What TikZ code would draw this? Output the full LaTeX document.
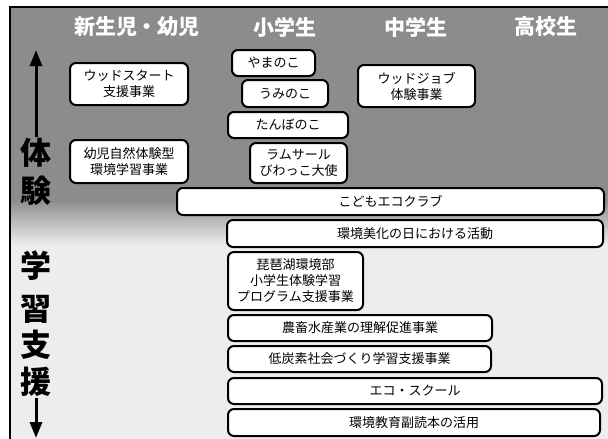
\documentclass[tikz,border=0pt]{standalone}
\usepackage{fontspec}
\setmainfont{Noto Sans CJK JP}
\usetikzlibrary{arrows.meta}

\begin{document}
\begin{tikzpicture}[x=1pt,y=-1pt,
  box/.style={draw, line width=2pt, rounded corners=6pt, fill=white, align=center,
    inner sep=0pt, font=\fontsize{13}{16}\selectfont},
  head/.style={text=white, font=\fontsize{21}{21}\selectfont\bfseries},
  side/.style={font=\fontsize{31}{31}\selectfont\bfseries, inner sep=1pt},
  axis/.style={line width=3pt, -{Triangle[length=16pt,width=12pt]}}]
\useasboundingbox (0,0) rectangle (608,439);
% background
\fill[black!45] (10,7) rectangle (608,200);
\shade[top color=black!45, bottom color=black!7] (10,200) rectangle (608,245);
\fill[black!7] (10,245) rectangle (608,439);
\draw[line width=1.5pt] (10,439) -- (10,7) -- (608,7);

\node[head] (newborn) at (137,27) {新生児・幼児};
\node[head] (elem) at (285,27) {小学生};
\node[head] (junior) at (416,27) {中学生};
\node[head] (senior) at (546,27) {高校生};

% left axis
\node[side] (tai) at (36,153) {体};
\node[side] (ken) at (36,191) {験};
\node[side] (gaku) at (36,266) {学};
\node[side] (shu) at (36,309) {習};
\node[side] (shi) at (36,345) {支};
\node[side] (en) at (36,382) {援};
\coordinate (up) at (36,50);
\coordinate (down) at (36,438);
\draw[axis] (tai.north) -- (up);
\draw[axis] (en.south) -- (down);

\node[box, minimum width=118, minimum height=42] (woodstart) at (129,84) {ウッドスタート\\支援事業};
\node[box, minimum width=83, minimum height=26] (yama) at (273.5,63) {やまのこ};
\node[box, minimum width=86, minimum height=27] (umi) at (285,93.5) {うみのこ};
\node[box, minimum width=120, minimum height=26] (tanbo) at (288,125) {たんぼのこ};
\node[box, minimum width=117, minimum height=42] (woodjob) at (416.5,86) {ウッドジョブ\\体験事業};
\node[box, minimum width=118, minimum height=43] (youji) at (129,161.5) {幼児自然体験型\\環境学習事業};
\node[box, minimum width=97, minimum height=40] (ramsar) at (298.5,163) {ラムサール\\びわっこ大使};
\node[box, minimum width=427, minimum height=27] (ecoclub) at (390.5,201.5) {こどもエコクラブ};
\node[box, minimum width=376, minimum height=27] (bika) at (415,233.5) {環境美化の日における活動};
\node[box, minimum width=135, minimum height=58] (biwako) at (295.5,281) {琵琶湖環境部\\小学生体験学習\\プログラム支援事業};
\node[box, minimum width=264, minimum height=26] (nouchiku) at (360,328) {農畜水産業の理解促進事業};
\node[box, minimum width=263, minimum height=26] (teitanso) at (359.5,359) {低炭素社会づくり学習支援事業};
\node[box, minimum width=374, minimum height=26] (ecoschool) at (415,391) {エコ・スクール};
\node[box, minimum width=372, minimum height=27] (fukudoku) at (414,422.5) {環境教育副読本の活用};
\end{tikzpicture}
\end{document}
